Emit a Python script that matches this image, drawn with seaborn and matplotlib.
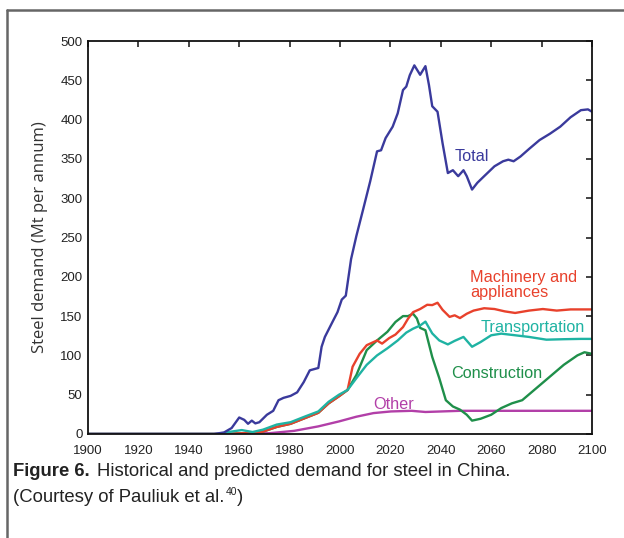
import matplotlib
matplotlib.use("Agg")
import matplotlib.pyplot as plt
import seaborn as sns
import numpy as np
import pandas as pd
from matplotlib.lines import Line2D

# ---- data ----
total_years = [1900, 1950, 1954, 1957, 1960, 1962, 1963.5, 1965, 1966.4, 1968, 1971, 1973.5, 1975.6,
               1977.6, 1980.4, 1983, 1985.6, 1988, 1991.4, 1992.7, 1994, 1997, 1999, 2000.7,
               2002.3, 2004.4, 2006.5, 2009.2, 2012, 2014.7, 2016.3, 2018.1, 2020.9, 2022.9,
               2025, 2026.3, 2027.7, 2029.5, 2031.8, 2033.9, 2035.3, 2036.6, 2038.7, 2040.7,
               2042.8, 2044.8, 2046.9, 2049, 2050.3, 2052.4, 2054.5, 2057.2, 2061.3, 2064.7,
               2066.8, 2068.9, 2071.6, 2075, 2079.2, 2083.3, 2087.4, 2091.5, 2095.6, 2098.4, 2100]
total_vals = [0, 0, 2, 7.6, 21, 18, 13, 17, 13.5, 15, 24.5, 29.5, 43,
              46, 48.5, 53, 66, 81, 84, 111, 123.5, 142.5, 155, 171,
              176, 222.6, 252, 286, 321.7, 359.6, 361, 376.5, 391, 408,
              437.6, 442, 456.6, 469, 457, 468, 444, 417, 410, 370,
              332, 335.6, 328, 335.6, 328, 311, 319.6, 328, 340.6, 347,
              349, 347, 353, 362.6, 374, 382, 391, 403, 412, 413, 410]

mach_years = [1900, 1955.7, 1961, 1965.3, 1969.4, 1974.9, 1980.4, 1985.9, 1991.4, 1995.5, 1999.6,
              2003, 2005, 2007.8, 2010.6, 2014.7, 2016.7, 2019.5, 2022, 2025, 2027, 2029,
              2031.8, 2034.6, 2036.6, 2038.7, 2040.7, 2043.5, 2045.5, 2047.6, 2050.3, 2053,
              2057.2, 2061.3, 2065.4, 2069.5, 2075, 2080.5, 2086, 2091.5, 2100]
mach_vals = [0, 0, 1, 1, 3, 9, 13, 20, 27, 39, 48,
             56, 85.6, 102, 113, 119, 115, 122, 126.5, 136, 146.7, 155,
             159, 164.4, 164, 167, 158, 149, 151, 147.5, 153, 157,
             160, 159, 156, 154, 157, 159, 157, 158.5, 158.5]

trans_years = [1900, 1952, 1955.7, 1961, 1965.3, 1969.4, 1974.9, 1980.4, 1985.9, 1991.4, 1995.5,
               1999.6, 2003, 2006.5, 2010.6, 2014.7, 2018.8, 2022.9, 2026.3, 2029, 2031.8,
               2033.9, 2036.6, 2039.4, 2042.8, 2045.5, 2049, 2052.4, 2055.8, 2060, 2064,
               2069.5, 2075, 2081.9, 2088.8, 2095.6, 2100]
trans_vals = [0, 0, 2.5, 5, 2.5, 5.5, 12, 15, 22, 28.7, 41,
              50, 56, 71, 88, 100, 109, 119, 129, 134, 138,
              143, 128, 119, 114, 118.5, 123.5, 111, 117, 125.6, 127.7,
              125.6, 123.5, 120, 120.6, 121, 121]

cons_years = [1900, 1955.7, 1961, 1965.3, 1969.4, 1974.9, 1980.4, 1985.9, 1991.4, 1995.5, 1999.6,
              2003, 2006.5, 2010.6, 2014.7, 2018.8, 2022, 2025, 2027, 2029, 2030.5, 2031.8,
              2033.9, 2036.6, 2039.4, 2042, 2044.8, 2047.6, 2050.3, 2052.4, 2055.8, 2060,
              2064, 2068.2, 2072.3, 2077.8, 2083.3, 2088.8, 2094.2, 2097, 2100]
cons_vals = [0, 0, 1, 1, 3, 9, 13, 20, 27, 39, 48,
             56, 75, 106.7, 119, 130, 142.5, 150, 150, 153, 147, 135,
             132, 98, 71, 43, 35, 31, 24.5, 17, 19.4, 24.5,
             33, 39, 43, 58, 73, 88, 100, 104, 102]

other_years = [1900, 1955, 1961, 1972, 1981.8, 1991.4, 1999.6, 2006.5, 2013.3, 2020.2, 2028.4,
               2033.9, 2047.6, 2100]
other_vals = [0, 0, 0.5, 1, 4, 9.7, 16, 22, 26.6, 28.7, 29.5, 28, 29.5, 29.5]

series_names = ["Total", "Machinery and\nappliances", "Transportation", "Construction", "Other"]
series_colors = ["#3a3a9c", "#e8412c", "#1fb3a3", "#1f8f4a", "#b23fa8"]

x_ticks = [1900, 1920, 1940, 1960, 1980, 2000, 2020, 2040, 2060, 2080, 2100]
y_ticks = [0, 50, 100, 150, 200, 250, 300, 350, 400, 450, 500]

# ---- figure ----
sns.set_style("white")
plt.rcParams["font.family"] = ["Liberation Sans", "DejaVu Sans"]

fig = plt.figure(figsize=(6.24, 5.38), dpi=100)
ax = fig.add_axes([88 / 624, 1 - 434 / 538, (592 - 88) / 624, (434 - 41) / 538])

data = [(total_years, total_vals), (mach_years, mach_vals), (trans_years, trans_vals),
        (cons_years, cons_vals), (other_years, other_vals)]
order = [4, 3, 1, 2, 0]
for i in order:
    xs, ys = data[i]
    df = pd.DataFrame({"year": xs, "value": ys})
    sns.lineplot(data=df, x="year", y="value", ax=ax, color=series_colors[i],
                 linewidth=1.7, legend=False)

ax.set_xlim(1900, 2100)
ax.set_ylim(0, 500)
ax.set_xticks(x_ticks)
ax.set_yticks(y_ticks)
ax.set_xticklabels([str(t) for t in x_ticks])
ax.set_yticklabels([str(t) for t in y_ticks])
ax.tick_params(direction="in", length=4, width=1.2, top=True, right=True,
               labelsize=9.5, colors="#222222")
ax.tick_params(axis="x", pad=8)
ax.tick_params(axis="y", pad=4)
for s in ax.spines.values():
    s.set_color("#111111")
    s.set_linewidth(1.3)
ax.set_xlabel("")
ax.set_ylabel("Steel demand (Mt per annum)", fontsize=12, family=["Open Sans", "DejaVu Sans"],
              color="#333333", labelpad=9)

# series labels
label_pos = [(2045.5, 353), (2051.7, 189.5), (2055.9, 135), (2044.2, 77), (2013, 37)]
for i, (lx, ly) in enumerate(label_pos):
    ax.text(lx, ly, series_names[i], color=series_colors[i], fontsize=11.7,
            ha="left", va="center", linespacing=0.95)

# outer frame (left and top edges)
fig.add_artist(Line2D([7 / 624, 7 / 624], [0, 1 - 10 / 538], transform=fig.transFigure,
                      color="#666666", linewidth=1.8))
fig.add_artist(Line2D([7 / 624, 1], [1 - 10 / 538, 1 - 10 / 538], transform=fig.transFigure,
                      color="#666666", linewidth=1.8))

# caption
cap_size = 13.3
y1 = 1 - 472 / 538
y2 = 1 - 497 / 538
t1 = fig.text(13 / 624, y1, "Figure 6.", fontsize=cap_size, fontweight="bold",
              color="#222222", va="center")
r = fig.canvas.get_renderer()
bb = t1.get_window_extent(r)
fig.text((bb.x1 + 7) / 624, y1, "Historical and predicted demand for steel in China.",
         fontsize=cap_size, color="#222222", va="center")
t3 = fig.text(13 / 624, y2, "(Courtesy of Pauliuk et al.", fontsize=cap_size,
              color="#222222", va="center")
bb3 = t3.get_window_extent(r)
t4 = fig.text((bb3.x1 + 1) / 624, y2 + 5 / 538, "40", fontsize=7.5, color="#222222", va="center")
bb4 = t4.get_window_extent(r)
fig.text((bb4.x1 + 0.5) / 624, y2, ")", fontsize=cap_size, color="#222222", va="center")

fig.savefig("out.png", dpi=100, facecolor="white")
